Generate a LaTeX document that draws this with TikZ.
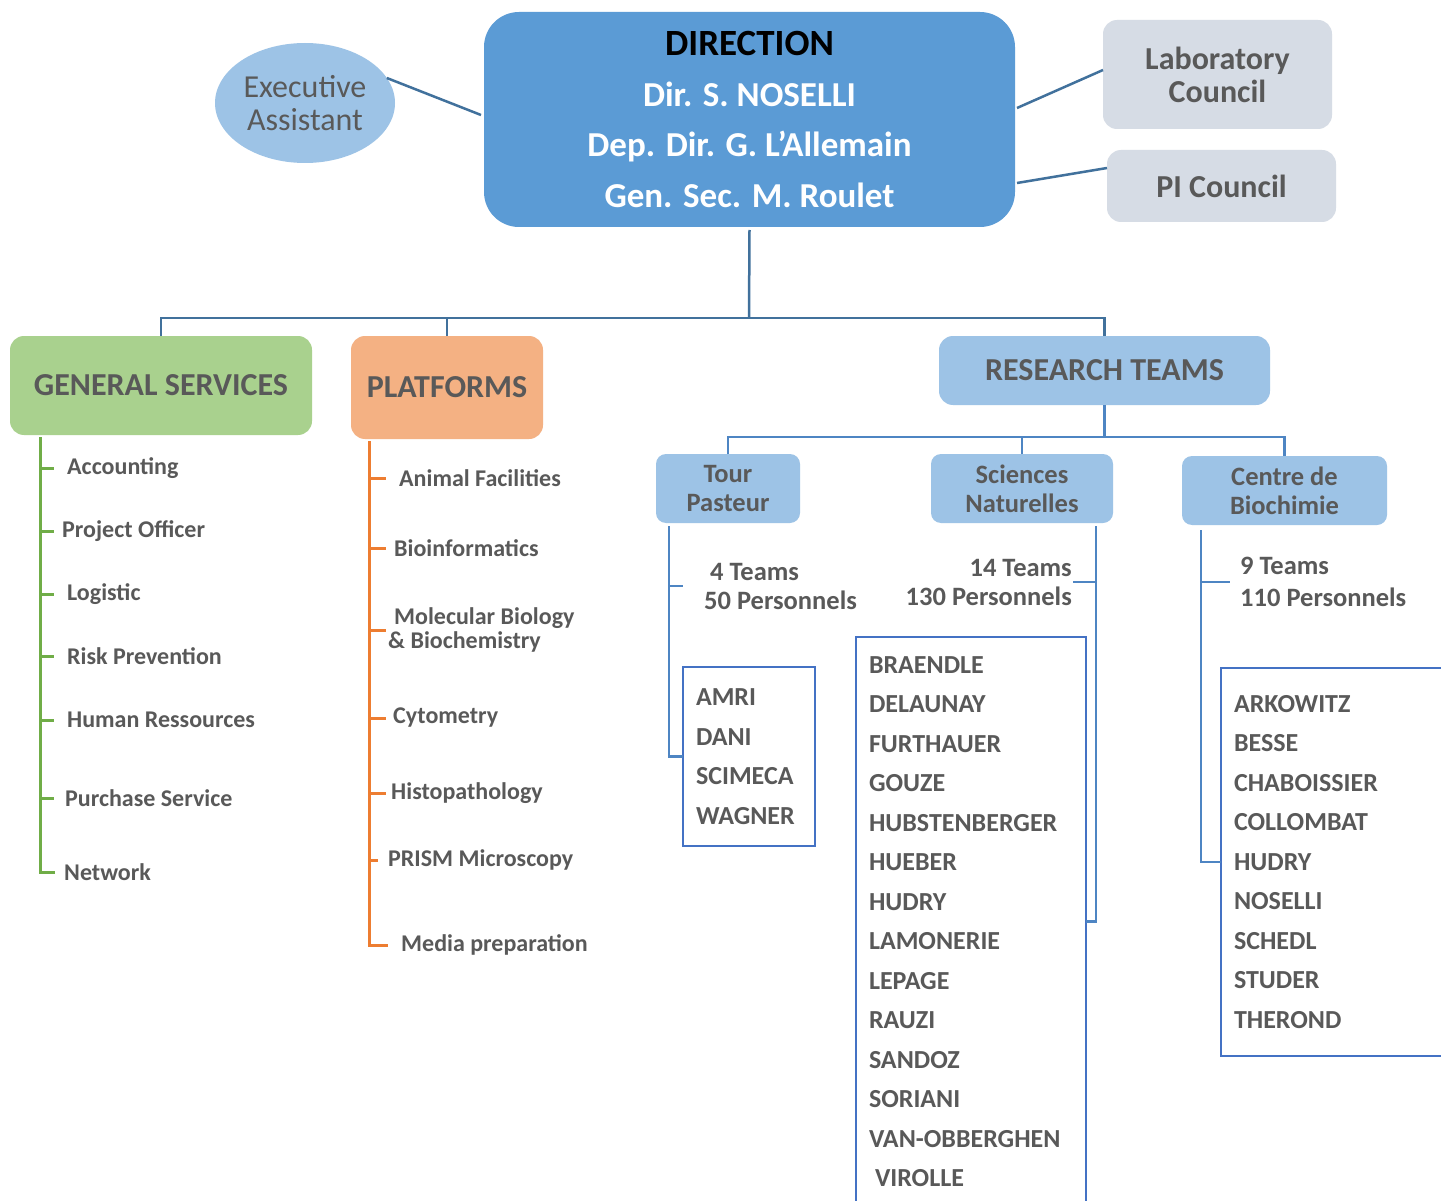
\documentclass[tikz,border=0pt]{standalone}
\usepackage{fontspec}
\setmainfont{Carlito}
\usetikzlibrary{shapes.geometric,calc}
\definecolor{dirblue}{HTML}{5B9BD5}
\definecolor{lblue}{HTML}{9DC3E6}
\definecolor{cgray}{HTML}{D6DCE5}
\definecolor{gfill}{HTML}{A9D18E}
\definecolor{gline}{HTML}{70AD47}
\definecolor{ofill}{HTML}{F4B183}
\definecolor{oline}{HTML}{ED7D31}
\definecolor{conn}{HTML}{41719C}
\definecolor{rconn}{HTML}{4E85C3}
\definecolor{nbox}{HTML}{4472C4}
\definecolor{txt}{HTML}{595959}
\begin{document}
\begin{tikzpicture}[x=1pt,y=-1pt,
  hbox/.style={rounded corners=14pt, inner sep=0pt, outer sep=0pt, text=txt, align=center,
    font=\bfseries\fontsize{32}{33}\selectfont},
  sbox/.style={rounded corners=10pt, inner sep=0pt, outer sep=0pt, fill=lblue, text=txt, align=center,
    minimum height=69pt, font=\bfseries\fontsize{26.5}{29}\selectfont},
  lbl/.style={anchor=west, inner sep=0pt, text=txt, align=left, font=\bfseries\fontsize{24}{24}\selectfont},
  cnt/.style={inner sep=0pt, text=txt, font=\bfseries\fontsize{26.5}{29}\selectfont},
  namebox/.style={draw=nbox, line width=2.5pt, inner xsep=13pt, inner ysep=0pt, outer sep=0pt,
    align=left, text=txt, font=\bfseries\fontsize{26}{39.5}\selectfont},
  mainconn/.style={draw=conn, line width=2.5pt},
  rline/.style={draw=rconn, line width=2.5pt},
  gtree/.style={draw=gline, line width=3pt},
  otree/.style={draw=oline, line width=3pt}
]
\clip (0,0) rectangle (1441,1201);
\fill[white] (0,0) rectangle (1441,1201);

% top level
\node[fill=dirblue, rounded corners=35pt, inner sep=0pt, outer sep=0pt,
  minimum width=531pt, minimum height=215pt, text=white, align=center,
  font=\bfseries\fontsize{35}{50.5}\selectfont] (dir) at (749.5,119.5)
  {{\color{black}\fontsize{37}{50.5}\selectfont DIRECTION}\\Dir. S. NOSELLI\\Dep. Dir. G. L’Allemain\\Gen. Sec. M. Roulet};
\node[ellipse, fill=lblue, inner sep=0pt, outer sep=0pt, minimum width=180pt, minimum height=120pt,
  text=txt, align=center, font=\fontsize{32}{33}\selectfont] (exec) at (305,103) {Executive\\Assistant};
\node[hbox, fill=cgray, minimum width=229pt, minimum height=109pt] (lab) at (1217.5,74.5) {Laboratory\\Council};
\node[hbox, fill=cgray, minimum width=229pt, minimum height=72pt] (pi) at (1221.5,186) {PI Council};

\draw[mainconn] (exec.17) -- ($(dir.west)+(-3,-4.5)$);
\draw[mainconn] ($(dir.east)+(2,-11.5)$) -- ($(lab.west)+(0,-4.5)$);
\draw[mainconn] ($(dir.east)+(2,63.5)$) -- ($(pi.west)+(0,-18)$);

% second level
\node[hbox, fill=gfill, minimum width=302pt, minimum height=99pt] (gs) at (161,385.5) {GENERAL SERVICES};
\node[hbox, fill=ofill, minimum width=192pt, minimum height=103pt] (pf) at (447,387.5) {PLATFORMS};
\node[hbox, fill=lblue, minimum width=331pt, minimum height=69pt] (rt) at (1104.5,370.5) {RESEARCH TEAMS};

\coordinate (hub) at (749,318);
\draw[mainconn] ($(dir.south)+(0,3)$) -- (hub);
\draw[mainconn] (gs.north) |- (hub) -| (rt.north);
\draw[mainconn] (pf.north) -- (pf.north |- hub);

% general services list
\node[lbl] (acc) at (67,468) {Accounting};
\node[lbl] (pro) at (62,531) {Project Officer};
\node[lbl] (log) at (67,594) {Logistic};
\node[lbl] (risk) at (67,656) {Risk Prevention};
\node[lbl] (hum) at (67,720) {Human Ressources};
\node[lbl] (pur) at (65,798) {Purchase Service};
\node[lbl] (net) at (64,872) {Network};
\coordinate (gst) at ($(gs.south west)+(30,2)$);
\draw[gtree] (gst) |- ($(net.west)+(-9,0)$);
\foreach \n in {acc,pro,log,risk,hum,pur}
  \draw[gtree] (gst |- \n.west) -- ++(14,0);

% platforms list
\node[lbl] (ani) at (399,478) {Animal Facilities};
\node[lbl] (bio) at (394,548) {Bioinformatics};
\node[lbl] (mol) at (388,630) {\hspace*{6pt}Molecular Biology\\\& Biochemistry};
\node[lbl] (cyt) at (393,718) {Cytometry};
\node[lbl] (his) at (391,793) {Histopathology};
\node[lbl] (pri) at (388,860) {PRISM Microscopy};
\node[lbl] (med) at (401,945) {Media preparation};
\coordinate (pft) at ($(pf.south west)+(18,2)$);
\draw[otree] (pft) |- ($(med.west)+(-13,0)$);
\foreach \n in {ani,bio,mol,cyt,his}
  \draw[otree] (pft |- \n.west) -- ++(17,0);
\draw[otree] (pft |- pri.west) -- ++(9,0);

% research teams
\node[sbox, minimum width=144pt] (tp) at (728,488.5) {Tour\\Pasteur};
\node[sbox, minimum width=182pt] (sn) at (1022,488.5) {Sciences\\Naturelles};
\node[sbox, minimum width=205pt] (cb) at (1284.5,490.5) {Centre de\\Biochimie};
\coordinate (rhub) at ($(rt.south)+(0,32)$);
\draw[rline] (rt.south) -- (rhub);
\draw[rline] (tp.north) |- (rhub) -| (cb.north);
\draw[rline] (sn.north) -- (sn.north |- rhub);

\node[cnt, anchor=west, align=left] (tpc) at (704,586) {\hspace*{6pt}4 Teams\\50 Personnels};
\node[cnt, anchor=east, align=right] (snc) at (1072,582) {14 Teams\\130 Personnels};
\node[cnt, anchor=west, align=left, font=\bfseries\fontsize{26.5}{32}\selectfont] (cbc) at (1240,582) {9 Teams\\110 Personnels};

\node[namebox, minimum width=132pt, minimum height=179pt, text width=106pt] (amri) at (749,756.5)
  {AMRI\\DANI\\SCIMECA\\WAGNER};
\node[namebox, minimum width=230pt, minimum height=569pt, text width=204pt] (snbox) at (971,921.5)
  {BRAENDLE\\DELAUNAY\\FURTHAUER\\GOUZE\\HUBSTENBERGER\\HUEBER\\HUDRY\\LAMONERIE\\LEPAGE\\RAUZI\\SANDOZ\\SORIANI\\VAN-OBBERGHEN\\\hspace*{6pt}VIROLLE};
\node[namebox, minimum width=240pt, minimum height=388pt, text width=214pt] (cbbox) at (1341,862)
  {ARKOWITZ\\BESSE\\CHABOISSIER\\COLLOMBAT\\HUDRY\\NOSELLI\\SCHEDL\\STUDER\\THEROND};

\coordinate (tpt) at ($(tp.south west)+(13,3)$);
\draw[rline] (tpt) |- (amri.west);
\draw[rline] (tpt |- tpc.west) -- ++(14,0);
\coordinate (snt) at ($(sn.south east)+(-17,3)$);
\draw[rline] (snt) |- (snbox.east);
\draw[rline] (snt |- snc.east) -- ++(-23,0);
\coordinate (cbt) at ($(cb.south west)+(19,5)$);
\draw[rline] (cbt) |- (cbbox.west);
\draw[rline] (cbt |- cbc.west) -- ++(29,0);
\end{tikzpicture}
\end{document}
